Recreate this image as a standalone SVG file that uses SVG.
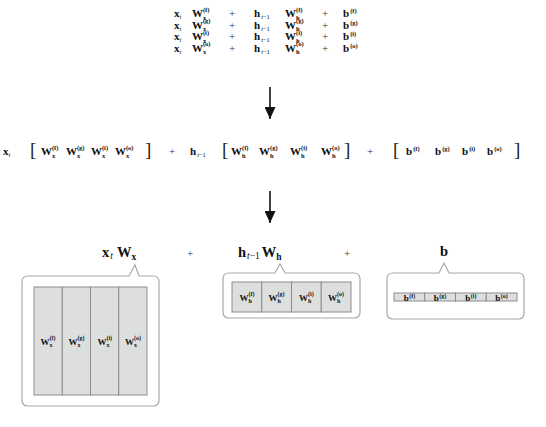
<svg xmlns="http://www.w3.org/2000/svg" width="546" height="427" viewBox="0 0 546 427">
<style>
.e{font-family:"Liberation Serif","DejaVu Serif",serif;font-weight:bold;font-size:11px;fill:#111}
.L{font-size:14.5px}
.c{font-size:9px}
.s{font-size:6.5px}
.cs{font-size:6px}
.Ls{font-size:9.5px}
.i{font-style:italic;font-weight:normal}
.n{font-weight:normal}
.br{font-family:"Liberation Serif",serif;font-size:19px;fill:#222}
.plus{font-family:"Liberation Serif",serif;font-size:11px;fill:#333}
.box{fill:#fff;stroke:#a8a8a8;stroke-width:1.2}
.cell{fill:#dddfde;stroke:#8c8c8c;stroke-width:1}
.conn{stroke:#111;stroke-width:1.6;fill:none}
</style>
<defs>
<marker id="ah" viewBox="0 0 12 11" refX="12" refY="5.5" markerWidth="12" markerHeight="11" markerUnits="userSpaceOnUse" orient="auto">
<path d="M0,0 L12,5.5 L0,11 z" fill="#111"/>
</marker>
</defs>

<g id="eq-top">
<text class="e" x="174" y="17">x<tspan class="s i" dy="2">t</tspan></text>
<text class="e" x="192" y="17">W<tspan class="s" dy="2.5">x</tspan><tspan class="s" dx="-3.3" dy="-8">(f)</tspan></text>
<text class="plus" x="232" y="17" text-anchor="middle">+</text>
<text class="e" x="254" y="17">h<tspan class="s i" dx="1" dy="2">t</tspan><tspan class="s n">−1</tspan></text>
<text class="e" x="285" y="17">W<tspan class="s" dy="2.5">h</tspan><tspan class="s" dx="-3.6" dy="-8">(f)</tspan></text>
<text class="plus" x="325" y="17" text-anchor="middle">+</text>
<text class="e" x="343" y="17">b<tspan class="s" dx="1" dy="-4">(f)</tspan></text>

<text class="e" x="174" y="28.5">x<tspan class="s i" dy="2">t</tspan></text>
<text class="e" x="192" y="28.5">W<tspan class="s" dy="2.5">x</tspan><tspan class="s" dx="-3.3" dy="-8">(g)</tspan></text>
<text class="plus" x="232" y="28.5" text-anchor="middle">+</text>
<text class="e" x="254" y="28.5">h<tspan class="s i" dx="1" dy="2">t</tspan><tspan class="s n">−1</tspan></text>
<text class="e" x="285" y="28.5">W<tspan class="s" dy="2.5">h</tspan><tspan class="s" dx="-3.6" dy="-8">(g)</tspan></text>
<text class="plus" x="325" y="28.5" text-anchor="middle">+</text>
<text class="e" x="343" y="28.5">b<tspan class="s" dx="1" dy="-4">(g)</tspan></text>

<text class="e" x="174" y="40">x<tspan class="s i" dy="2">t</tspan></text>
<text class="e" x="192" y="40">W<tspan class="s" dy="2.5">x</tspan><tspan class="s" dx="-3.3" dy="-8">(i)</tspan></text>
<text class="plus" x="232" y="40" text-anchor="middle">+</text>
<text class="e" x="254" y="40">h<tspan class="s i" dx="1" dy="2">t</tspan><tspan class="s n">−1</tspan></text>
<text class="e" x="285" y="40">W<tspan class="s" dy="2.5">h</tspan><tspan class="s" dx="-3.6" dy="-8">(i)</tspan></text>
<text class="plus" x="325" y="40" text-anchor="middle">+</text>
<text class="e" x="343" y="40">b<tspan class="s" dx="1" dy="-4">(i)</tspan></text>

<text class="e" x="174" y="51.5">x<tspan class="s i" dy="2">t</tspan></text>
<text class="e" x="192" y="51.5">W<tspan class="s" dy="2.5">x</tspan><tspan class="s" dx="-3.3" dy="-8">(o)</tspan></text>
<text class="plus" x="232" y="51.5" text-anchor="middle">+</text>
<text class="e" x="254" y="51.5">h<tspan class="s i" dx="1" dy="2">t</tspan><tspan class="s n">−1</tspan></text>
<text class="e" x="285" y="51.5">W<tspan class="s" dy="2.5">h</tspan><tspan class="s" dx="-3.6" dy="-8">(o)</tspan></text>
<text class="plus" x="325" y="51.5" text-anchor="middle">+</text>
<text class="e" x="343" y="51.5">b<tspan class="s" dx="1" dy="-4">(o)</tspan></text>
</g>

<g id="eq-mid">
<text class="e" x="3" y="155">x<tspan class="s i" dy="2">t</tspan></text>
<text class="br" x="30" y="156">[</text>
<text class="e" x="41" y="155">W<tspan class="s" dy="2.5">x</tspan><tspan class="s" dx="-3.3" dy="-8">(f)</tspan></text>
<text class="e" x="66" y="155">W<tspan class="s" dy="2.5">x</tspan><tspan class="s" dx="-3.3" dy="-8">(g)</tspan></text>
<text class="e" x="91" y="155">W<tspan class="s" dy="2.5">x</tspan><tspan class="s" dx="-3.3" dy="-8">(i)</tspan></text>
<text class="e" x="115" y="155">W<tspan class="s" dy="2.5">x</tspan><tspan class="s" dx="-3.3" dy="-8">(o)</tspan></text>
<text class="br" x="145" y="156">]</text>
<text class="plus" x="172" y="155" text-anchor="middle">+</text>
<text class="e" x="190" y="155">h<tspan class="s i" dx="1" dy="2">t</tspan><tspan class="s n">−1</tspan></text>
<text class="br" x="222" y="156">[</text>
<text class="e" x="231" y="155">W<tspan class="s" dy="2.5">h</tspan><tspan class="s" dx="-3.6" dy="-8">(f)</tspan></text>
<text class="e" x="259" y="155">W<tspan class="s" dy="2.5">h</tspan><tspan class="s" dx="-3.6" dy="-8">(g)</tspan></text>
<text class="e" x="290" y="155">W<tspan class="s" dy="2.5">h</tspan><tspan class="s" dx="-3.6" dy="-8">(i)</tspan></text>
<text class="e" x="321" y="155">W<tspan class="s" dy="2.5">h</tspan><tspan class="s" dx="-3.6" dy="-8">(o)</tspan></text>
<text class="br" x="344" y="156">]</text>
<text class="plus" x="370" y="155" text-anchor="middle">+</text>
<text class="br" x="393" y="156">[</text>
<text class="e" x="406" y="155">b<tspan class="s" dx="1" dy="-4">(f)</tspan></text>
<text class="e" x="435" y="155">b<tspan class="s" dx="1" dy="-4">(g)</tspan></text>
<text class="e" x="462" y="155">b<tspan class="s" dx="1" dy="-4">(i)</tspan></text>
<text class="e" x="487" y="155">b<tspan class="s" dx="1" dy="-4">(o)</tspan></text>
<text class="br" x="514" y="156">]</text>
</g>

<g id="connectors">
<line class="conn" x1="270" y1="87" x2="270" y2="119" marker-end="url(#ah)"/>
<line class="conn" x1="270" y1="191" x2="270" y2="223" marker-end="url(#ah)"/>
</g>

<g id="label-x">
<text class="e L" x="102" y="257">x<tspan class="Ls i" dx="1" dy="2">t</tspan><tspan dx="4" dy="-2">W</tspan><tspan class="Ls" dy="3">x</tspan></text>
</g>
<text class="plus" x="190" y="257" text-anchor="middle">+</text>
<g id="label-h">
<text class="e L" x="238" y="257">h<tspan class="Ls i" dx="1" dy="2">t</tspan><tspan class="Ls n">−1</tspan><tspan dx="2" dy="-2">W</tspan><tspan class="Ls" dy="3">h</tspan></text>
</g>
<text class="plus" x="347" y="257" text-anchor="middle">+</text>
<g id="label-b">
<text class="e L" x="444" y="256" text-anchor="middle">b</text>
</g>

<g id="box-x">
<path class="box" d="M28,276 H129 L135,265 L139,276 H153 Q159,276 159,282 V400 Q159,406 153,406 H28 Q22,406 22,400 V282 Q22,276 28,276 Z"/>
<rect class="cell" x="34" y="287" width="28.25" height="108"/>
<rect class="cell" x="62.25" y="287" width="28.25" height="108"/>
<rect class="cell" x="90.5" y="287" width="28.25" height="108"/>
<rect class="cell" x="118.75" y="287" width="28.25" height="108"/>
<text class="e c" x="48" y="345" text-anchor="middle">W<tspan class="cs" dy="2">x</tspan><tspan class="cs" dx="-3" dy="-7">(f)</tspan></text>
<text class="e c" x="76.5" y="345" text-anchor="middle">W<tspan class="cs" dy="2">x</tspan><tspan class="cs" dx="-3" dy="-7">(g)</tspan></text>
<text class="e c" x="104.75" y="345" text-anchor="middle">W<tspan class="cs" dy="2">x</tspan><tspan class="cs" dx="-3" dy="-7">(i)</tspan></text>
<text class="e c" x="133" y="345" text-anchor="middle">W<tspan class="cs" dy="2">x</tspan><tspan class="cs" dx="-3" dy="-7">(o)</tspan></text>
</g>

<g id="box-h">
<path class="box" d="M229,273 H275 L280,264 L285,273 H354 Q360,273 360,279 V312 Q360,318 354,318 H229 Q223,318 223,312 V279 Q223,273 229,273 Z"/>
<rect class="cell" x="232" y="282" width="29.75" height="30"/>
<rect class="cell" x="261.75" y="282" width="29.75" height="30"/>
<rect class="cell" x="291.5" y="282" width="29.75" height="30"/>
<rect class="cell" x="321.25" y="282" width="29.75" height="30"/>
<text class="e c" x="247" y="301" text-anchor="middle">W<tspan class="cs" dy="2">h</tspan><tspan class="cs" dx="-3.3" dy="-7">(f)</tspan></text>
<text class="e c" x="276.6" y="301" text-anchor="middle">W<tspan class="cs" dy="2">h</tspan><tspan class="cs" dx="-3.3" dy="-7">(g)</tspan></text>
<text class="e c" x="306.4" y="301" text-anchor="middle">W<tspan class="cs" dy="2">h</tspan><tspan class="cs" dx="-3.3" dy="-7">(i)</tspan></text>
<text class="e c" x="336" y="301" text-anchor="middle">W<tspan class="cs" dy="2">h</tspan><tspan class="cs" dx="-3.3" dy="-7">(o)</tspan></text>
</g>

<g id="box-b">
<path class="box" d="M393,273 H439 L444,263 L449,273 H518 Q524,273 524,279 V313 Q524,319 518,319 H393 Q387,319 387,313 V279 Q387,273 393,273 Z"/>
<rect class="cell" x="394" y="293" width="30.75" height="8"/>
<rect class="cell" x="424.75" y="293" width="30.75" height="8"/>
<rect class="cell" x="455.5" y="293" width="30.75" height="8"/>
<rect class="cell" x="486.25" y="293" width="30.75" height="8"/>
<text class="e c" x="409.4" y="300.5" text-anchor="middle">b<tspan class="cs" dx="0.5" dy="-3">(f)</tspan></text>
<text class="e c" x="440.1" y="300.5" text-anchor="middle">b<tspan class="cs" dx="0.5" dy="-3">(g)</tspan></text>
<text class="e c" x="470.9" y="300.5" text-anchor="middle">b<tspan class="cs" dx="0.5" dy="-3">(i)</tspan></text>
<text class="e c" x="501.6" y="300.5" text-anchor="middle">b<tspan class="cs" dx="0.5" dy="-3">(o)</tspan></text>
</g>
</svg>
